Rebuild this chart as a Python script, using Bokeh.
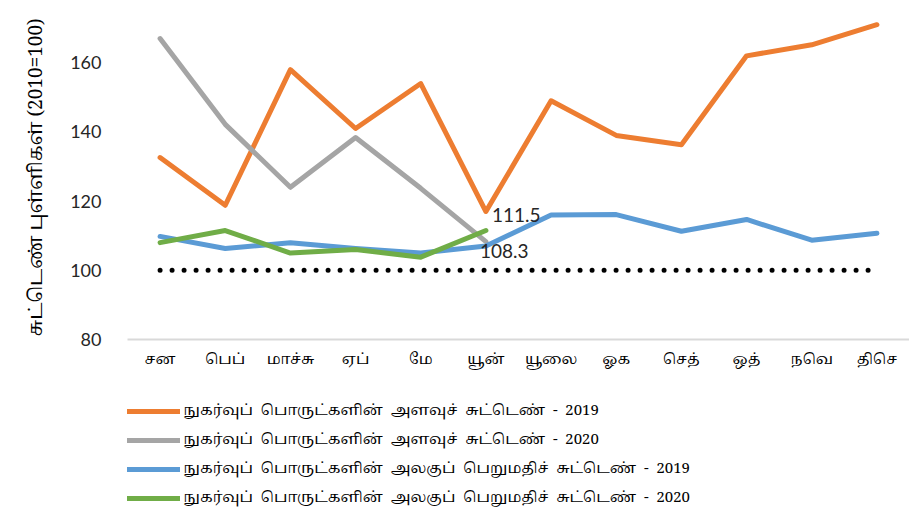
from bokeh.plotting import figure
from bokeh.models import Legend, LegendItem, Range1d, FixedTicker
from bokeh.layouts import column
from bokeh.embed import file_html
from bokeh.resources import INLINE
from bokeh.core.properties import value

months = ["சன", "பெப்", "மாச்சு", "ஏப்", "மே", "யூன்", "யூலை", "ஓக", "செத்", "ஒத்", "நவெ", "திசெ"]
months_2020 = months[:6]

vol_2019 = [132.6, 118.8, 158.0, 141.0, 154.0, 117.0, 149.0, 139.0, 136.3, 162.0, 165.2, 171.0]
vol_2020 = [167.0, 142.2, 124.0, 138.4, 123.7, 108.3]
val_2019 = [109.8, 106.3, 108.0, 106.3, 105.0, 107.0, 116.0, 116.1, 111.3, 114.7, 108.7, 110.7]
val_2020 = [108.0, 111.5, 105.0, 106.0, 103.8, 111.5]
base_line = [100] * 12

y_ticks = [80, 100, 120, 140, 160, 180]

legend_labels = [
    "நுகர்வுப்  பொருட்களின்  அளவுச்  சுட்டெண்  -  2019",
    "நுகர்வுப்  பொருட்களின்  அளவுச்  சுட்டெண்  -  2020",
    "நுகர்வுப்  பொருட்களின்  அலகுப்  பெறுமதிச்  சுட்டெண்  -  2019",
    "நுகர்வுப்  பொருட்களின்  அலகுப்  பெறுமதிச்  சுட்டெண்  -  2020",
]
y_label = "சுட்டெண்  புள்ளிகள்   (2010=100)"

colors = ["#ED7D31", "#A5A5A5", "#5B9BD5", "#70AD47"]
TAMIL = ("'Noto Sans Tamil ExtraCondensed', 'Noto Sans Tamil Condensed', "
         "'Noto Serif Tamil', 'Noto Sans Tamil', 'Lohit Tamil', 'Noto Sans', sans-serif")

p = figure(x_range=months, y_range=Range1d(80, 178.0), width=909, height=380,
           output_backend="svg", toolbar_location=None,
           min_border_left=127, min_border_right=0, min_border_top=0, min_border_bottom=41)
p.outline_line_color = None
p.xgrid.grid_line_color = None
p.ygrid.grid_line_color = None

p.xaxis.axis_line_color = "#D9D9D9"
p.xaxis.axis_line_width = 2
p.xaxis.major_tick_line_color = None
p.xaxis.minor_tick_line_color = None
p.xaxis.major_label_text_font_size = "15px"
p.xaxis.major_label_text_color = "#000000"
p.xaxis.major_label_text_font = TAMIL
p.xaxis.major_label_standoff = 2

p.yaxis.ticker = FixedTicker(ticks=y_ticks)
p.yaxis.axis_line_color = None
p.yaxis.major_tick_line_color = None
p.yaxis.minor_tick_line_color = None
p.yaxis.major_label_text_font_size = "18px"
p.yaxis.major_label_text_color = "#262626"
p.yaxis.major_label_text_font = "Lato"
p.yaxis.major_label_standoff = 20
p.yaxis.axis_label = y_label
p.yaxis.axis_label_text_font_size = "19px"
p.yaxis.axis_label_text_font_style = "normal"
p.yaxis.axis_label_text_font = TAMIL
p.yaxis.axis_label_text_color = "#000000"
p.yaxis.axis_label_standoff = 16

p.line(months, base_line, line_color="black", line_width=5, line_dash="0 12", line_cap="round")

r1 = p.line(months, vol_2019, line_color=colors[0], line_width=5, line_cap="round", line_join="round")
r2 = p.line(months_2020, vol_2020, line_color=colors[1], line_width=5, line_cap="round", line_join="round")
r3 = p.line(months, val_2019, line_color=colors[2], line_width=5, line_cap="round", line_join="round")
r4 = p.line(months_2020, val_2020, line_color=colors[3], line_width=5, line_cap="round", line_join="round")

p.text(x=[months_2020[-1]], y=[val_2020[-1]], text=[f"{val_2020[-1]:.1f}"],
       x_offset=6, y_offset=-16, text_font_size="19px", text_baseline="middle",
       text_color="#262626", text_font=value("Lato"))
p.text(x=[months_2020[-1]], y=[vol_2020[-1]], text=[f"{vol_2020[-1]:.1f}"],
       x_offset=-6, y_offset=9, text_font_size="19px", text_baseline="middle",
       text_color="#262626", text_font=value("Lato"))

# legend figure (its series lie outside its visible range; only the legend shows)
p2 = figure(width=909, height=141, output_backend="svg", toolbar_location=None,
            x_range=Range1d(0, 1), y_range=Range1d(0, 1),
            x_axis_location=None, y_axis_location=None,
            min_border_left=0, min_border_right=0, min_border_top=0, min_border_bottom=0)
p2.outline_line_color = None
p2.xgrid.grid_line_color = None
p2.ygrid.grid_line_color = None
series = [vol_2019, vol_2020, val_2019, val_2020]
lr = [p2.line(x=list(range(len(s))), y=s, line_color=c, line_width=5, line_cap="round")
      for s, c in zip(series, colors)]

items = [LegendItem(label=lab, renderers=[r]) for lab, r in zip(legend_labels, lr)]
legend = Legend(items=items, location=(0, 12), orientation="vertical",
                glyph_width=53, glyph_height=20, label_height=20, spacing=6,
                label_standoff=3, padding=0, margin=0,
                label_text_font_size="15px", label_text_font=TAMIL,
                label_text_color="#000000",
                border_line_color=None, background_fill_alpha=0)
p2.add_layout(legend, "center")

layout = column(p, p2, spacing=0)
open("out.html", "w").write(file_html(layout, INLINE))
